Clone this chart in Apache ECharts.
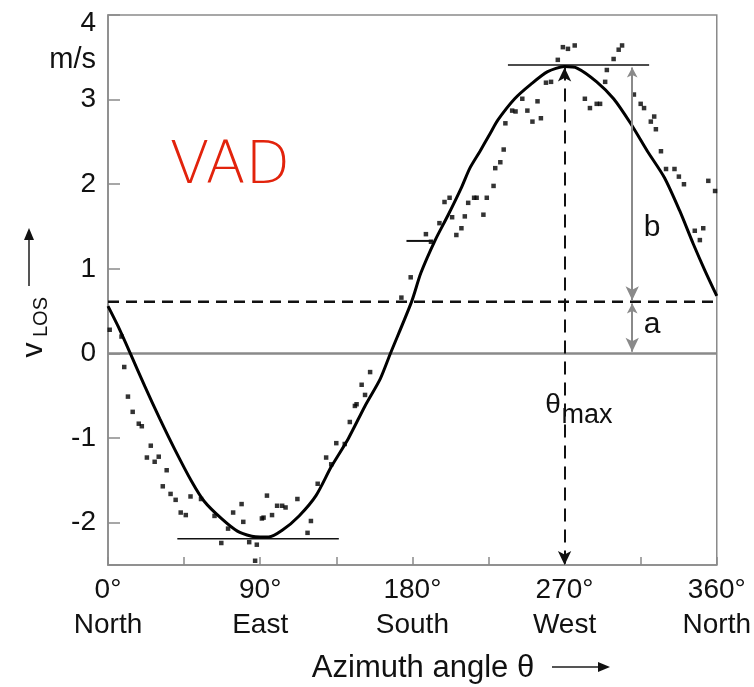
<!DOCTYPE html>
<html>
<head>
<meta charset="utf-8">
<script src="https://cdn.jsdelivr.net/npm/echarts@6/dist/echarts.min.js"></script>
<style>
	html, body { margin: 0; padding: 0; background: #fff; }
	#vad { width: 754px; height: 687px; }
</style>
</head>
<body>
<div id="vad"></div>
<script>
	// fitted curve (azimuth deg, m/s)
	const curveTheta = [0, 6, 13, 21.8, 30.6, 39.4, 49.4, 57, 67, 76.5, 85, 90, 95, 103, 113, 123, 132, 142, 152, 161, 167, 179.5, 185, 193.5, 201, 209, 214, 220, 226, 230.6, 240.5, 250, 260, 270, 277.6, 289, 299, 309, 319, 329, 338, 346, 353, 360]
	const curveV = [0.56, 0.32, 0.01, -0.39, -0.77, -1.13, -1.51, -1.75, -1.95, -2.10, -2.16, -2.17, -2.17, -2.09, -1.92, -1.68, -1.34, -1.01, -0.62, -0.30, 0, 0.61, 0.95, 1.34, 1.63, 1.96, 2.19, 2.39, 2.60, 2.76, 3.01, 3.18, 3.33, 3.39, 3.37, 3.21, 3.01, 2.72, 2.39, 2.08, 1.69, 1.30, 0.98, 0.68]

	// measured radial velocities (dots)
	const dotTheta = [1, 8, 9.6, 11.8, 14.6, 18.2, 20, 25.3, 23, 27.6, 30, 34.7, 32.4, 37, 40, 43, 46, 48.8, 55, 63, 71, 74, 79, 80, 67, 83.5, 88, 87, 91, 94,
		92, 97, 100, 103, 105, 112, 120, 118, 124, 129, 132, 135, 140, 143, 146, 147, 152, 150, 155, 173.5, 179,
		188, 191, 196, 199, 202, 203.5, 206, 209, 211, 213, 216.5, 218, 222, 224, 228, 229, 232, 234,
		235, 239, 241, 245, 248, 251, 254, 256, 259, 262, 266, 269, 272, 276, 282, 285, 289, 291, 295, 294, 299, 302, 304,
		311, 315, 317, 321, 323, 324, 327, 330, 335, 337.6, 340.6, 355, 359, 347, 352, 350]
	const dotV = [0.28, 0.20, -0.16, -0.51, -0.69, -0.83, -0.86, -1.09, -1.23, -1.28, -1.22, -1.38, -1.57, -1.66, -1.73, -1.88, -1.91, -1.69, -1.72, -1.92, -2.07, -1.88, -1.78, -1.99, -2.24, -2.23, -2.26, -2.45, -1.95, -1.68,
		-1.94, -1.91, -1.80, -1.80, -1.82, -1.72, -1.98, -2.12, -1.54, -1.23, -1.31, -1.06, -1.07, -0.81, -0.62, -0.60, -0.49, -0.37, -0.22, 0.66, 0.90,
		1.41, 1.32, 1.54, 1.79, 1.84, 1.61, 1.40, 1.48, 1.62, 1.78, 1.84, 1.84, 1.64, 1.84, 1.98, 2.19, 2.26, 2.41,
		2.72, 2.87, 2.86, 3.01, 2.87, 2.74, 2.98, 2.78, 3.20, 3.21, 3.47, 3.62, 3.60, 3.64, 3.01, 2.90, 2.95, 2.95, 3.35, 3.21, 3.48, 3.59, 3.64,
		3.06, 2.95, 2.90, 2.74, 2.80, 2.65, 2.39, 2.18, 2.18, 2.09, 2.00, 2.04, 1.92, 1.45, 1.48, 1.34]

	// reference levels
	const offsetA = 0.61
	const peakV = 3.41
	const minV = -2.19
	const thetaMax = 270
	const abTheta = 310
	const peakSpan = [236.5, 320]
	const minSpan = [41, 136.5]
	const shortSpan = [176.5, 192]
	const shortV = 1.33

	// axis labels
	const xTickVals = [0, 90, 180, 270, 360]
	const xDirs = ['North', 'East', 'South', 'West', 'North']

	const font = 'Liberation Sans'
	const grey = '#8a8a8a'

	let curveData = curveTheta.map((t, i) => [t, curveV[i]])
	let dotData = dotTheta.map((t, i) => [t, dotV[i]])

	let myChart = echarts.init(document.getElementById('vad'));
	let option = {
		animation: false,
		grid: {
			left: 108,
			right: 34,
			top: 15,
			bottom: 122,
			show: true,
			borderColor: grey,
			borderWidth: 1.5
		},
		xAxis: {
			type: 'value',
			min: 0,
			max: 360,
			interval: 45,
			axisLine: { onZero: false, lineStyle: { color: grey, width: 1.5 } },
			axisTick: { inside: true, length: 8, lineStyle: { color: grey, width: 1.5 } },
			splitLine: { show: false },
			axisLabel: {
				margin: 8,
				color: '#111',
				fontFamily: font,
				fontSize: 28,
				lineHeight: 35,
				formatter: function (v) {
					let i = xTickVals.indexOf(v)
					if (i < 0) return ''
					return v + '°\n' + xDirs[i]
				}
			}
		},
		yAxis: {
			type: 'value',
			min: -2.5,
			max: 4,
			splitNumber: 6,
			axisLine: { onZero: false, lineStyle: { color: grey, width: 1.5 } },
			axisTick: { inside: true, length: 12, lineStyle: { color: grey, width: 1.5 } },
			splitLine: { show: false },
			axisLabel: {
				margin: 12,
				color: '#111',
				fontFamily: font,
				fontSize: 28,
				formatter: function (v) {
					if (v === -2.5) return ''
					if (v === 4) return '{top|4}'
					return String(v)
				},
				rich: {
					top: { fontFamily: font, fontSize: 28, color: '#111', padding: [16, 0, 0, 0] }
				}
			}
		},
		series: [{
			name: 'zero',
			type: 'line',
			data: [[0, 0], [360, 0]],
			symbol: 'none',
			lineStyle: { color: grey, width: 2.5 },
			silent: true
		}, {
			name: 'offset',
			type: 'line',
			data: [[0, offsetA], [360, offsetA]],
			symbol: 'none',
			lineStyle: { color: '#111', width: 2.5, type: [11, 7] },
			silent: true
		}, {
			name: 'peak',
			type: 'line',
			data: [[peakSpan[0], peakV], [peakSpan[1], peakV]],
			symbol: 'none',
			lineStyle: { color: '#111', width: 1.5 },
			silent: true
		}, {
			name: 'min',
			type: 'line',
			data: [[minSpan[0], minV], [minSpan[1], minV]],
			symbol: 'none',
			lineStyle: { color: '#111', width: 1.5 },
			silent: true
		}, {
			name: 'short',
			type: 'line',
			data: [[shortSpan[0], shortV], [shortSpan[1], shortV]],
			symbol: 'none',
			lineStyle: { color: '#111', width: 2 },
			silent: true
		}, {
			name: 'dots',
			type: 'scatter',
			data: dotData,
			symbol: 'rect',
			symbolSize: 4.5,
			itemStyle: { color: '#000' },
			silent: true
		}, {
			name: 'fit',
			type: 'line',
			data: curveData,
			smooth: 0.25,
			showSymbol: false,
			lineStyle: { color: '#000', width: 3 },
			silent: true,
			markLine: {
				silent: true,
				symbol: ['arrow', 'arrow'],
				symbolSize: [10, 14],
				label: { show: false },
				data: [
					[{ coord: [thetaMax, peakV - 0.03], lineStyle: { color: '#111', width: 2, type: [13, 8] } }, { coord: [thetaMax, -2.5] }],
					[{ coord: [abTheta, peakV - 0.03], lineStyle: { color: grey, width: 2, type: 'solid' }, symbolSize: [8, 10] }, { coord: [abTheta, offsetA + 0.02] }],
					[{ coord: [abTheta, offsetA - 0.02], lineStyle: { color: grey, width: 2, type: 'solid' }, symbolSize: [8, 10] }, { coord: [abTheta, 0.02] }]
				]
			}
		}],
		graphic: [
			{ type: 'text', x: 230, y: 168, style: { text: 'VAD', fontFamily: 'DejaVu Sans', fontWeight: 300, fontSize: 58, fill: '#e2230c', align: 'center', verticalAlign: 'middle' } },
			{ type: 'text', x: 96, y: 60, style: { text: 'm/s', fontFamily: font, fontSize: 29, fill: '#111', align: 'right', verticalAlign: 'middle' } },
			{ type: 'text', x: 553, y: 405, style: { text: 'θ', fontFamily: font, fontSize: 28, fill: '#111', align: 'center', verticalAlign: 'middle' } },
			{ type: 'text', x: 587, y: 416, style: { text: 'max', fontFamily: font, fontSize: 27, fill: '#111', align: 'center', verticalAlign: 'middle' } },
			{ type: 'text', x: 652, y: 228, style: { text: 'b', fontFamily: font, fontSize: 30, fill: '#111', align: 'center', verticalAlign: 'middle' } },
			{ type: 'text', x: 652, y: 325, style: { text: 'a', fontFamily: font, fontSize: 30, fill: '#111', align: 'center', verticalAlign: 'middle' } },
			{ type: 'text', x: 423, y: 668, style: { text: 'Azimuth angle θ', fontFamily: font, fontSize: 31, fill: '#111', align: 'center', verticalAlign: 'middle' } },
			{ type: 'line', shape: { x1: 552, y1: 667, x2: 600, y2: 667 }, style: { stroke: '#555', lineWidth: 2 } },
			{ type: 'polygon', shape: { points: [[610, 667], [598, 662], [598, 672]] }, style: { fill: '#111' } },
			{ type: 'text', x: 34, y: 350, rotation: Math.PI / 2, style: { text: 'v', fontFamily: font, fontSize: 30, fill: '#111', align: 'center', verticalAlign: 'middle' } },
			{ type: 'text', x: 41, y: 317, rotation: Math.PI / 2, style: { text: 'LOS', fontFamily: font, fontSize: 20, fill: '#111', align: 'center', verticalAlign: 'middle' } },
			{ type: 'line', shape: { x1: 29, y1: 286, x2: 29, y2: 240 }, style: { stroke: '#555', lineWidth: 2 } },
			{ type: 'polygon', shape: { points: [[29, 228], [24, 240], [34, 240]] }, style: { fill: '#111' } }
		]
	}
	myChart.setOption(option)
</script>
</body>
</html>
